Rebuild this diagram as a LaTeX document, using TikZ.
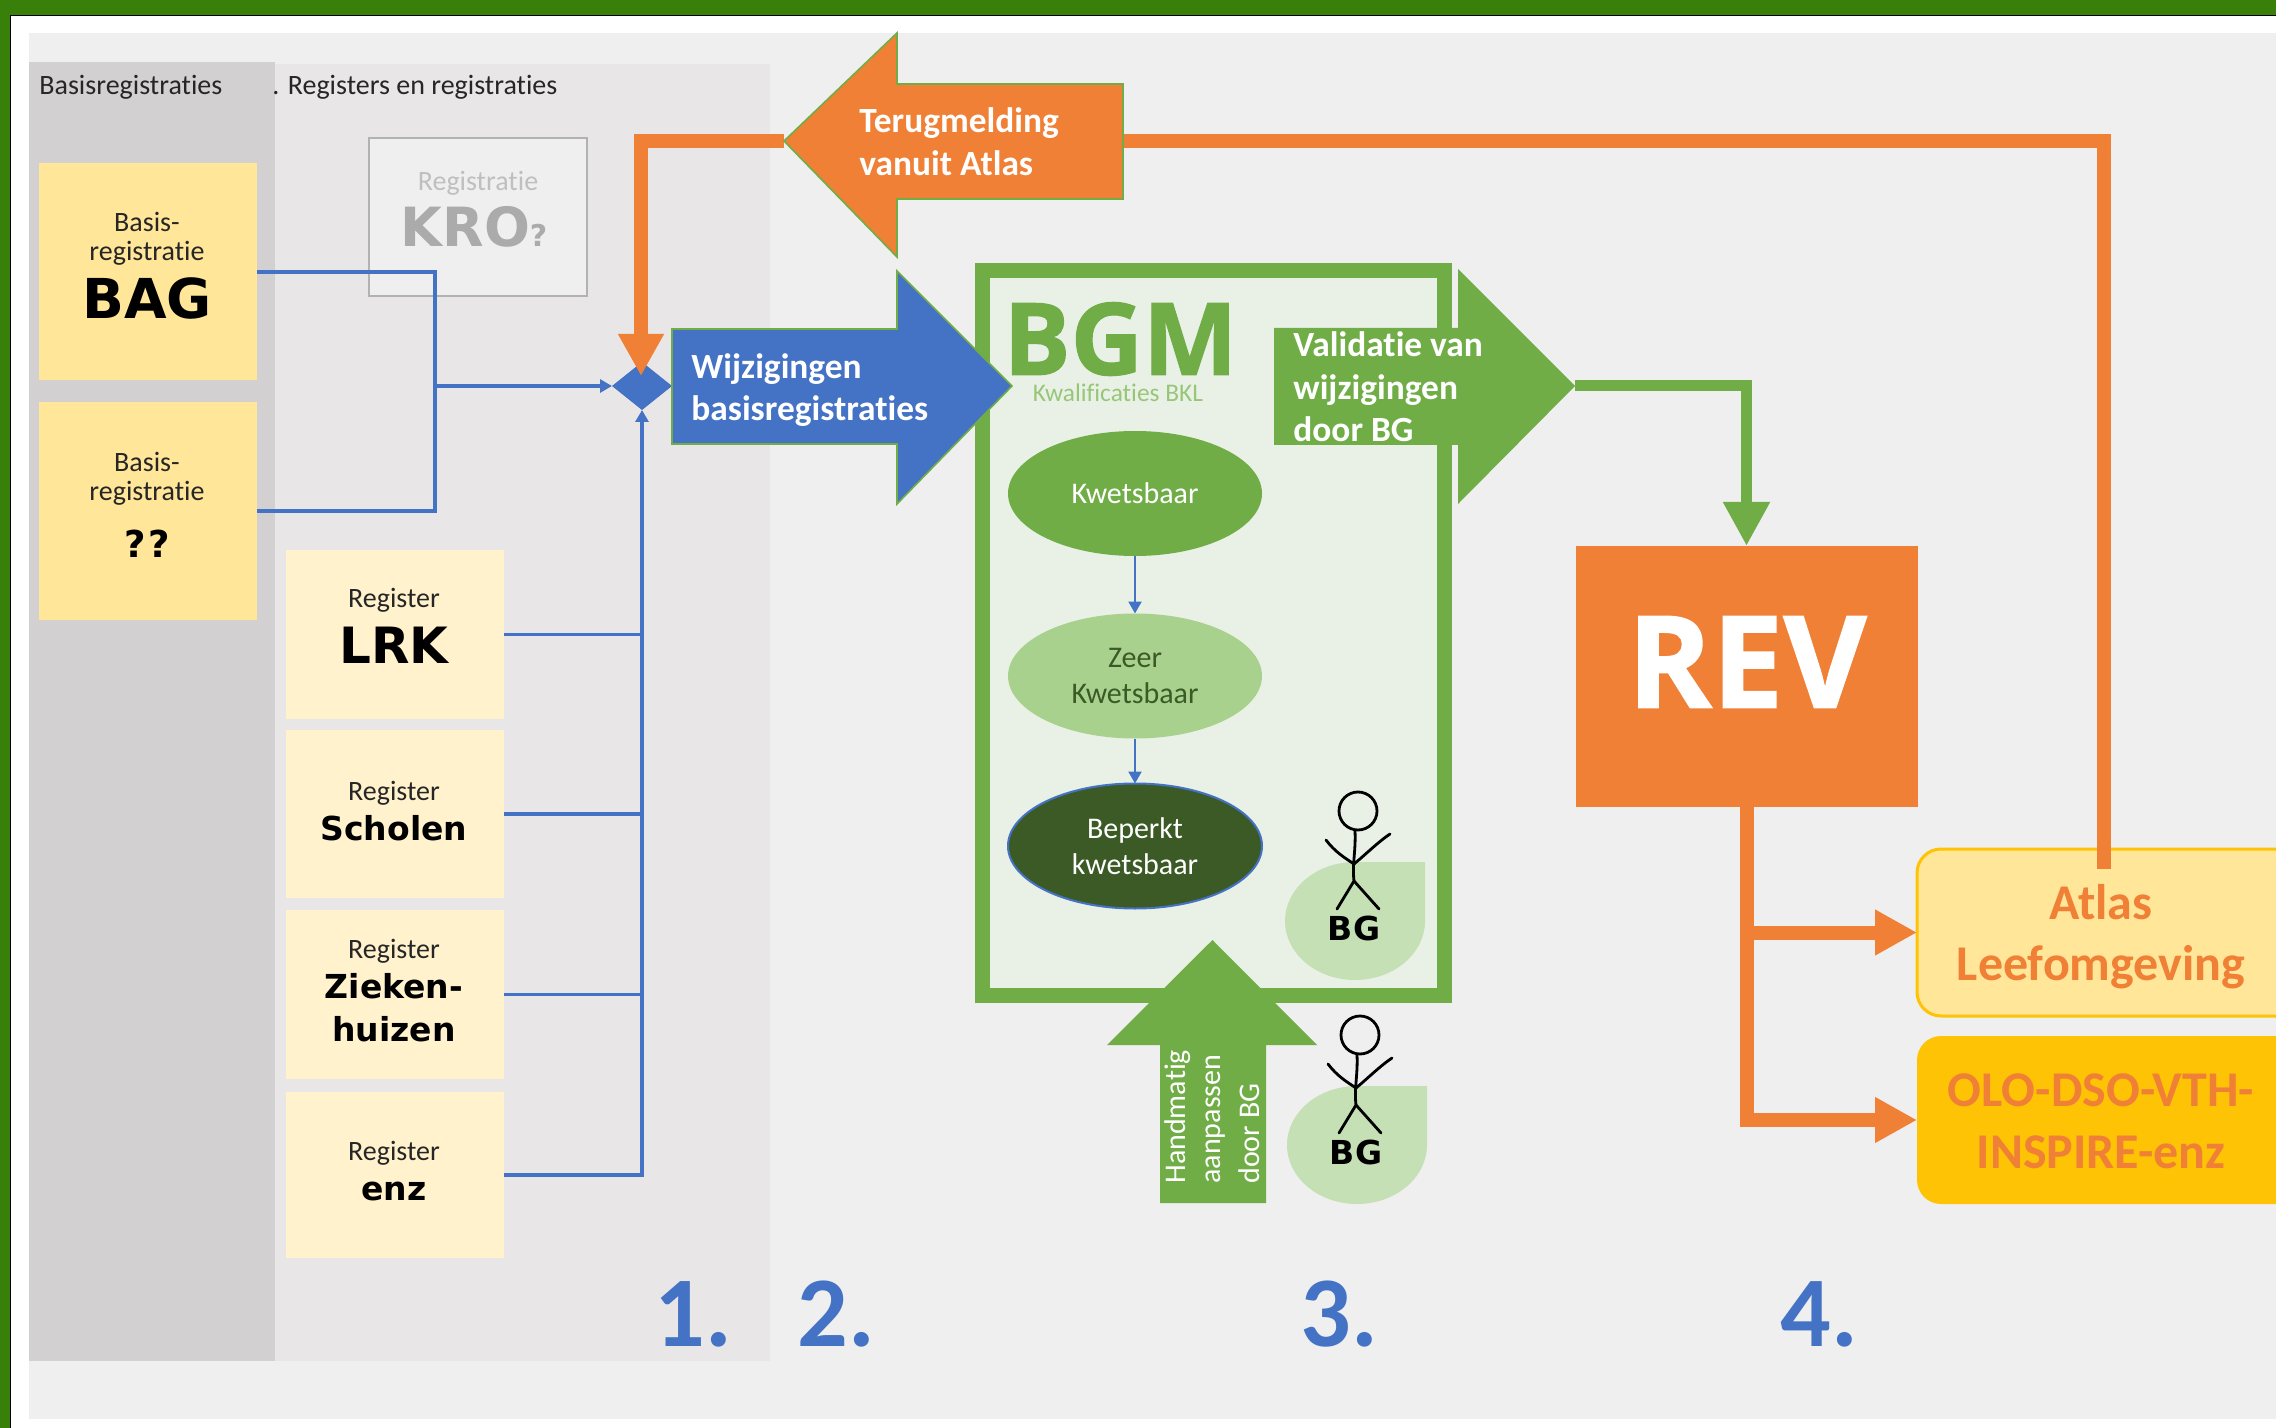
\documentclass[tikz,border=0pt]{standalone}
\usepackage{fontspec}
\setmainfont{Carlito}[Ligatures=NoCommon]
\newfontfamily\blk{DejaVu Sans}
\newfontfamily\osb{Open Sans}[BoldFeatures={FakeBold=1.2}]
\usetikzlibrary{arrows.meta,shapes.geometric}
\definecolor{frameg}{HTML}{38800A}
\definecolor{panel}{HTML}{EFEFEF}
\definecolor{zonea}{HTML}{D2D0D1}
\definecolor{zoneb}{HTML}{E8E6E7}
\definecolor{gold}{HTML}{FFE699}
\definecolor{cream}{HTML}{FFF2CC}
\definecolor{oran}{HTML}{EF8036}
\definecolor{blu}{HTML}{4472C4}
\definecolor{grn}{HTML}{70AD47}
\definecolor{lgrn}{HTML}{A9D18E}
\definecolor{pgrn}{HTML}{C5E0B4}
\definecolor{dgrn}{HTML}{3B5A26}
\definecolor{bgmfill}{HTML}{E9F1E6}
\definecolor{amber}{HTML}{FFC305}
\tikzset{
  boxnode/.style={rectangle,inner sep=0pt,outer sep=0pt},
  regbox/.style={boxnode,fill=cream,minimum width=109pt},
  basisbox/.style={boxnode,fill=gold,minimum width=109pt,minimum height=108.5pt},
  small/.style={inner sep=0pt,text=black!85,font=\fontsize{14}{14.5}\selectfont,align=center},
  heavy/.style={inner sep=0pt,text=black,align=center},
  bluline/.style={draw=blu,line width=1.8pt},
  bluarrow/.style={bluline,-{Triangle[length=6pt,width=6.5pt]}},
  orline/.style={draw=oran,line width=7pt},
  orarrow/.style={orline,-{Triangle[length=21pt,width=21.5pt]}},
  grarrow/.style={draw=grn,line width=5.5pt,-{Triangle[length=22pt,width=22pt]}},
  whitebold/.style={inner sep=0pt,text=white,anchor=west,align=left,font=\fontsize{17.7}{21.3}\selectfont\bfseries},
  num/.style={inner sep=0pt,text=blu,font=\fontsize{50}{50}\selectfont\bfseries},
  ell/.style={ellipse,inner sep=0pt,outer sep=0pt,minimum width=127pt,minimum height=62.5pt,align=center,font=\fontsize{15}{18}\selectfont},
  dest/.style={inner sep=0pt,text=oran,font=\fontsize{25}{25}\selectfont\bfseries},
  stick/.style={draw=black,line width=1.4pt,line cap=round,line join=round},
}
\newcommand{\bgperson}[1]{%
  \begin{scope}[shift={#1}]
    \fill[pgrn] (1285,921) arc[start angle=180,end angle=90,x radius=35pt,y radius=29.5pt]
      -- (1425,862) -- (1425,921) arc[start angle=0,end angle=-180,x radius=35pt,y radius=29.5pt] -- cycle;
    \draw[stick] (1358,811) circle[radius=9.5pt];
    \draw[stick] (1355,831) .. controls (1356,850) and (1352,865) .. (1354,881);
    \draw[stick] (1326,840) .. controls (1335,852) and (1345,858) .. (1354,864) .. controls (1365,855) and (1378,842) .. (1390,834);
    \draw[stick] (1337,909) -- (1354,881) -- (1379,909);
    \node[heavy,font=\blk\fontsize{16.5}{16.5}\selectfont\bfseries] at (1354,928) {BG};
  \end{scope}}
\begin{document}
\begin{tikzpicture}[x=0.5pt,y=-0.5pt]
\useasboundingbox (0,0) rectangle (2276,1428);
\clip (0,0) rectangle (2276,1428);
% frame and panels
\fill[frameg] (0,0) rectangle (2276,1428);
\fill[white] (10,15) rectangle (2276,1428);
\draw[black,line width=0.4pt] (10,1428) -- (10,15) -- (2276,15);
\fill[panel] (29,33) rectangle (2276,1419);
\fill[zoneb] (275,64) rectangle (770,1361);
\fill[zonea] (29,62) rectangle (275,1361);
\node[small,anchor=west] (t1) at (39,87) {Basisregistraties};
\node[small,anchor=west] (t2) at (272,87) {. Registers en registraties};
% boxes
\node[basisbox] (bag) at (148,272) {};
\node[small] (bag1) at (147,238.5) {Basis-\\registratie};
\node[heavy,font=\blk\fontsize{27.5}{27.5}\selectfont\bfseries] (bag2) at (147,298) {BAG};
\node[basisbox] (qq) at (148,511) {};
\node[small] (qq1) at (147,478.5) {Basis-\\registratie};
\node[heavy,font=\blk\fontsize{18.5}{18.5}\selectfont\bfseries] (qq2) at (147,544) {?\kern1.5pt?};
\node[boxnode,draw=black!30,line width=1pt,fill=panel,minimum width=109pt,minimum height=79pt] (kro) at (478,217) {};
\node[small,text=black!25] (kro1) at (478,183) {Registratie};
\node[heavy,text=black!33,font=\blk\fontsize{27}{27}\selectfont\bfseries] (kro2) at (474,227) {KRO{\fontsize{15}{15}\selectfont ?}};
\node[regbox,minimum height=84.5pt] (lrk) at (395,634.5) {};
\node[small] (lrk1) at (394,600.5) {Register};
\node[heavy,font=\blk\fontsize{25}{25}\selectfont\bfseries] (lrk2) at (394,645) {LRK};
\node[regbox,minimum height=84pt] (sch) at (395,814) {};
\node[small] (sch1) at (394,793.5) {Register};
\node[heavy,font=\blk\fontsize{16.5}{16.5}\selectfont\bfseries] (sch2) at (394,828) {Scholen};
\node[regbox,minimum height=84.5pt] (zie) at (395,994.5) {};
\node[small] (zie1) at (394,951.5) {Register};
\node[heavy,font=\blk\fontsize{16.5}{21.5}\selectfont\bfseries] (zie2) at (394,1008) {Zieken-\\huizen};
\node[regbox,minimum height=83pt] (enz) at (395,1175) {};
\node[small] (enz1) at (394,1153.5) {Register};
\node[heavy,font=\blk\fontsize{16.5}{16.5}\selectfont\bfseries] (enz2) at (394,1191) {enz};
% BGM block
\node[boxnode,draw=grn,line width=7.5pt,fill=bgmfill,minimum width=231pt,minimum height=362pt] (bgm) at (1213,633) {};
\node[inner sep=0pt,text=grn,anchor=west,font=\osb\fontsize{50}{50}\selectfont\bfseries] (bgmt) at (1003,339) {BGM};
\node[inner sep=0pt,text=lgrn!70!grn,font=\fontsize{12.7}{12.7}\selectfont] (bgmk) at (1118,393) {Kwalificaties BKL};
\node[ell,fill=grn,text=white] (kw) at (1135,493.5) {Kwetsbaar};
\node[ell,fill=lgrn,text=dgrn] (zk) at (1135,676) {Zeer\\Kwetsbaar};
\node[ell,fill=dgrn,draw=blu,line width=1pt,text=white] (bk) at (1135,846) {Beperkt\\kwetsbaar};
\draw[bluarrow,line width=1.1pt] (kw) -- (zk);
\draw[bluarrow,line width=1.1pt] (zk) -- (bk);
\bgperson{(0,0)}
% diamond
\node[diamond,fill=blu,inner sep=0pt,outer sep=0pt,minimum width=30pt,minimum height=24pt] (dia) at (642,386) {};
% blue connectors
\coordinate (jr) at (435,386);
\draw[bluline] (bag.east) -| (jr);
\draw[bluline] (qq.east) -| (jr);
\draw[bluarrow] (jr) -- (dia.west);
\draw[bluline] (lrk.east) -- (lrk.east -| dia.south);
\draw[bluline] (sch.east) -- (sch.east -| dia.south);
\draw[bluline] (zie.east) -- (zie.east -| dia.south);
\draw[bluarrow] (enz.east) -| (dia.south);
% destination boxes
\node[boxnode,anchor=west,draw=amber,line width=1.5pt,fill=gold,rounded corners=12pt,minimum width=195pt,minimum height=83.5pt] (atl) at (1917,932.5) {};
\node[dest] (atl1) at (2101,902) {Atlas};
\node[dest] (atl2) at (2101,967) {Leefomgeving};
\node[boxnode,anchor=west,fill=amber,rounded corners=12pt,minimum width=195pt,minimum height=84pt] (olo) at (1917,1120) {};
\node[dest] (olo1) at (2101,1090) {OLO-DSO-VTH-};
\node[dest] (olo2) at (2101,1152) {INSPIRE-enz};
% REV
\node[boxnode,fill=oran,minimum width=171pt,minimum height=130.5pt] (rev) at (1746.5,676.5) {};
\node[inner sep=0pt,text=white,font=\osb\fontsize{64}{64}\selectfont\bfseries] (revt) at (1747,662) {REV};
% block arrows
\coordinate (ttip) at (784,141);
\coordinate (tend) at (1123,141);
\coordinate (otip) at (641,376);
\coordinate (oc) at (2104,141);
\coordinate (oend) at (2104,869);
\draw[orline,line join=miter] (tend) -- (oc) -- (oend);
\draw[orarrow,line join=miter] (ttip) -| (otip);
\filldraw[fill=oran,draw=grn,line width=0.8pt] (ttip) -- (897,33) -- (897,84) -- (1123,84) -- (1123,199) -- (897,199) -- (897,257) -- cycle;
\node[whitebold] (tt) at (859,142) {Terugmelding\\vanuit Atlas};
\coordinate (wtip) at (1012,386);
\filldraw[fill=blu,draw=grn,line width=0.8pt] (672,329) -- (897,329) -- (897,271) -- (wtip) -- (897,504) -- (897,444) -- (672,444) -- cycle;
\node[whitebold] (wt) at (691,390) {Wijzigingen\\basisregistraties};
\coordinate (vtip) at (1575,386);
\fill[grn] (1274,328) -- (1458,328) -- (1458,269) -- (vtip) -- (1458,504) -- (1458,445) -- (1274,445) -- cycle;
\node[whitebold] (vt) at (1293,387) {Validatie van\\wijzigingen\\door BG};
\draw[grarrow,line join=miter] (vtip) -| (rev.north);
\draw[orarrow,line join=miter] (rev.south) |- (atl.west);
\draw[orarrow,line join=miter] (rev.south) |- (olo.west);
% manual arrow
\fill[grn] (1212.5,940) -- (1317,1045) -- (1266,1045) -- (1266,1203) -- (1160,1203) -- (1160,1045) -- (1107,1045) -- cycle;
\node[inner sep=0pt,rotate=90,anchor=west,text=white,font=\fontsize{15}{15}\selectfont] (h1) at (1178,1184) {Handmatig};
\node[inner sep=0pt,rotate=90,anchor=west,text=white,font=\fontsize{15}{15}\selectfont] (h2) at (1216,1184) {aanpassen};
\node[inner sep=0pt,rotate=90,anchor=west,text=white,font=\fontsize{15}{15}\selectfont] (h3) at (1249,1184) {door BG};
\bgperson{(2,224)}
% numbers
\node[num] (n1) at (693,1314) {1.};
\node[num] (n2) at (836,1314) {2.};
\node[num] (n3) at (1339,1314) {3.};
\node[num] (n4) at (1819,1314) {4.};
\end{tikzpicture}
\end{document}
